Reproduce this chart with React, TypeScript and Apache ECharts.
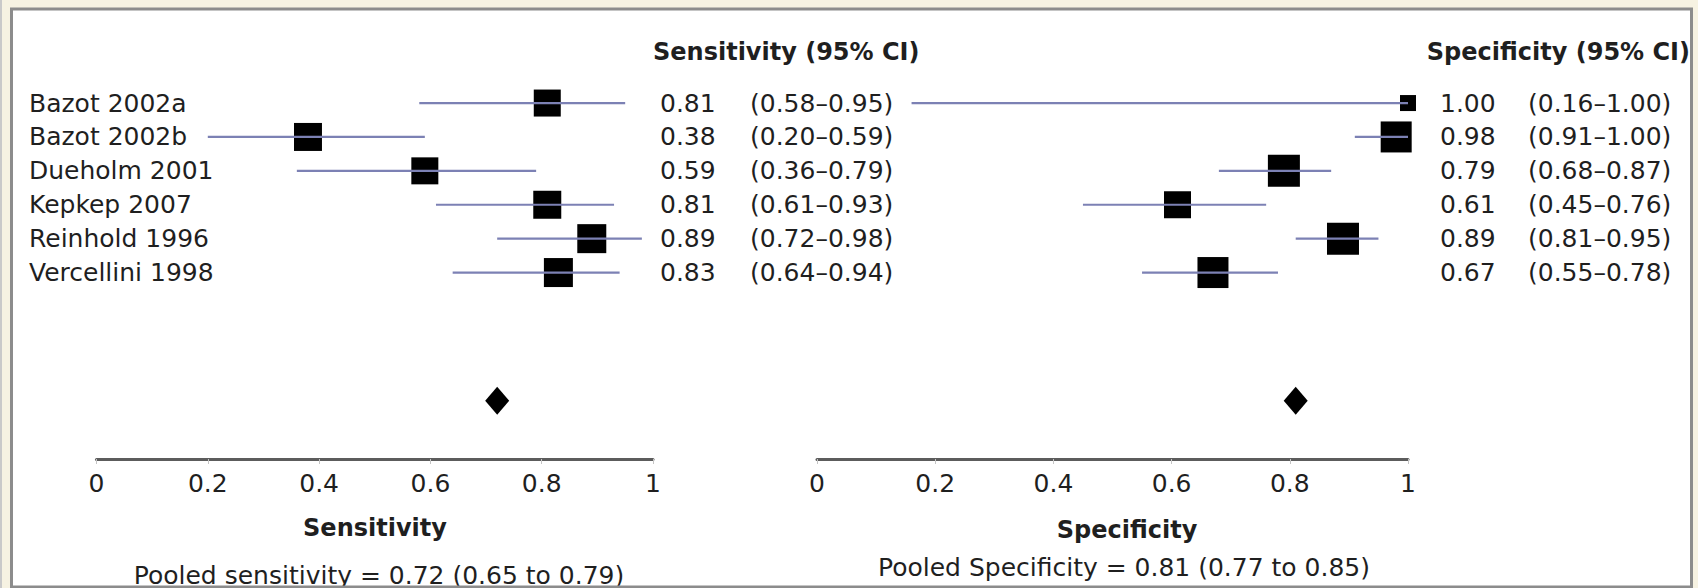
import React, { useEffect, useRef } from "react";
import * as echarts from "echarts";

// ---------- data ----------
const studies = [
  "Bazot 2002a",
  "Bazot 2002b",
  "Dueholm 2001",
  "Kepkep 2007",
  "Reinhold 1996",
  "Vercellini 1998",
];
const sensEst = [0.81, 0.38, 0.59, 0.81, 0.89, 0.83];
const sensLow = [0.58, 0.2, 0.36, 0.61, 0.72, 0.64];
const sensHigh = [0.95, 0.59, 0.79, 0.93, 0.98, 0.94];
const specEst = [1.0, 0.98, 0.79, 0.61, 0.89, 0.67];
const specLow = [0.16, 0.91, 0.68, 0.45, 0.81, 0.55];
const specHigh = [1.0, 1.0, 0.87, 0.76, 0.95, 0.78];
// study weights shown as square marker sizes
const sensWeight = [27, 28, 27, 28, 29, 29];
const specWeight = [16, 31, 32, 27, 32, 31];
const pooledSens = [0.72, 0.65, 0.79];
const pooledSpec = [0.81, 0.77, 0.85];
const tickInterval = 0.2;

// ---------- layout / style ----------
const FONT = "DejaVu Sans";
const TXT = "#1f1f1f";
const WHISKER = "#7c81b4";
const ROW_MAX = 11;
const POOLED_ROW = 9.28;

const fmt = (v: number) => v.toFixed(2);
const ciText = (lo: number, hi: number) => `(${fmt(lo)}\u2013${fmt(hi)})`;

function whiskers(g: number, low: number[], high: number[]) {
  return {
    type: "custom",
    xAxisIndex: g,
    yAxisIndex: g,
    z: 5,
    silent: true,
    clip: false,
    data: low.map((l, i) => [l, high[i], i + 0.5]),
    encode: { x: [0, 1], y: 2 },
    renderItem: (_p: any, api: any) => {
      const a = api.coord([api.value(0), api.value(2)]);
      const b = api.coord([api.value(1), api.value(2)]);
      return {
        type: "line",
        shape: { x1: a[0], y1: a[1], x2: b[0], y2: b[1] },
        style: { stroke: WHISKER, lineWidth: 2.2 },
      };
    },
  };
}

function squares(g: number, est: number[], w: number[]) {
  return {
    type: "scatter",
    xAxisIndex: g,
    yAxisIndex: g,
    z: 3,
    silent: true,
    symbol: "rect",
    data: est.map((e, i) => [e, i + 0.5, w[i]]),
    symbolSize: (v: number[]) => v[2],
    itemStyle: { color: "#000", opacity: 1 },
  };
}

function diamond(g: number, v: number) {
  return {
    type: "scatter",
    xAxisIndex: g,
    yAxisIndex: g,
    z: 3,
    silent: true,
    symbol: "diamond",
    symbolSize: [24, 28],
    data: [[v, POOLED_ROW]],
    itemStyle: { color: "#000", opacity: 1 },
  };
}

function textColumn(texts: string[], px: number, bold = false, align = "left") {
  return {
    type: "custom",
    xAxisIndex: 0,
    yAxisIndex: 0,
    z: 6,
    silent: true,
    clip: false,
    data: texts.map((_t, i) => [0, i + 0.5]),
    encode: { x: 0, y: 1 },
    renderItem: (p: any, api: any) => {
      const c = api.coord([0, api.value(1)]);
      return {
        type: "text",
        x: px,
        y: c[1],
        style: {
          text: texts[p.dataIndex],
          fill: TXT,
          font: `${bold ? "bold " : ""}25px "${FONT}"`,
          align,
          verticalAlign: "middle",
        },
      };
    },
  };
}

function xAxisDef(g: number) {
  return {
    type: "value",
    gridIndex: g,
    min: 0,
    max: 1,
    interval: tickInterval,
    splitLine: { show: false },
    axisLine: { show: true, onZero: false, lineStyle: { color: "#5c5c5c", width: 3 } },
    axisTick: { show: true, length: 5, lineStyle: { color: "#c4c4c4", width: 1 } },
    axisLabel: { fontFamily: FONT, fontSize: 25, color: TXT, margin: 12 },
  };
}

function yAxisDef(g: number) {
  return { type: "value", gridIndex: g, min: 0, max: ROW_MAX, inverse: true, show: false };
}

function label(text: string, x: number, y: number, bold: boolean, align = "center") {
  return {
    type: "text",
    x,
    y,
    z: 10,
    silent: true,
    style: {
      text,
      fill: TXT,
      font: `${bold ? "bold " : ""}${bold ? 24 : 25}px "${FONT}"`,
      align,
      verticalAlign: "middle",
    },
  };
}

export default function App() {
  const ref = useRef<HTMLDivElement>(null);
  useEffect(() => {
    if (!ref.current) return;
    const chart = echarts.init(ref.current, undefined, { renderer: "svg" });
    const option: any = {
      animation: false,
      backgroundColor: "#f6f2e2",
      grid: [
        { left: 96.5, top: 86.1, width: 556.5, height: 372.9 },
        { left: 817, top: 86.1, width: 591, height: 372.9 },
      ],
      xAxis: [xAxisDef(0), xAxisDef(1)],
      yAxis: [yAxisDef(0), yAxisDef(1)],
      graphic: [
        {
          type: "rect",
          z: -5,
          silent: true,
          shape: { x: 11.5, y: 9, width: 1680, height: 578 },
          style: { fill: "#ffffff" },
        },
        {
          type: "line",
          z: 100,
          silent: true,
          shape: { x1: 1, y1: 0, x2: 1, y2: 588 },
          style: { stroke: "#c9c9c9", lineWidth: 2 },
        },
        {
          type: "rect",
          z: 100,
          silent: true,
          shape: { x: 11.5, y: 9, width: 1680, height: 578 },
          style: { fill: "none", stroke: "#8c8c8c", lineWidth: 3 },
        },
        label("Sensitivity (95% CI)", 653, 52, true, "left"),
        label("Specificity (95% CI)", 1690, 52, true, "right"),
        label("Sensitivity", 375, 528, true),
        label("Specificity", 1127, 530, true),
        label(
          `Pooled sensitivity = ${fmt(pooledSens[0])} (${fmt(pooledSens[1])} to ${fmt(pooledSens[2])})`,
          379,
          575,
          false
        ),
        label(
          `Pooled Specificity = ${fmt(pooledSpec[0])} (${fmt(pooledSpec[1])} to ${fmt(pooledSpec[2])})`,
          1124,
          567,
          false
        ),
      ],
      series: [
        squares(0, sensEst, sensWeight),
        squares(1, specEst, specWeight),
        whiskers(0, sensLow, sensHigh),
        whiskers(1, specLow, specHigh),
        diamond(0, pooledSens[0]),
        diamond(1, pooledSpec[0]),
        textColumn(studies, 29),
        textColumn(sensEst.map(fmt), 660),
        textColumn(sensLow.map((l, i) => ciText(l, sensHigh[i])), 750),
        textColumn(specEst.map(fmt), 1440),
        textColumn(specLow.map((l, i) => ciText(l, specHigh[i])), 1528),
      ],
    };
    chart.setOption(option);
    return () => chart.dispose();
  }, []);
  return (
    <div
      ref={ref}
      style={{ position: "absolute", left: 0, top: 0, width: 1698, height: 588 }}
    />
  );
}
